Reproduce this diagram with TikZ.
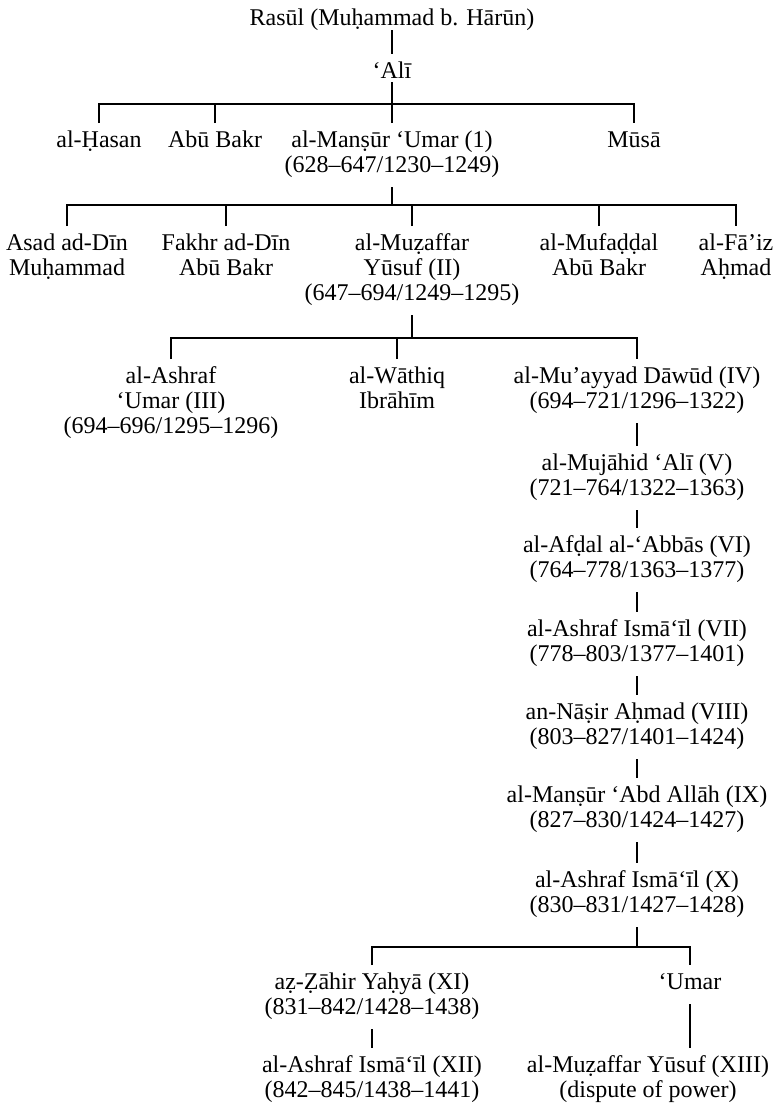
\documentclass[tikz,border=0pt]{standalone}
\usepackage{fontspec}
\setmainfont{Liberation Serif}
\newcommand{\tstr}{\rule{0pt}{24pt}}
\newcommand{\bstr}{\rule[-15pt]{0pt}{15pt}}
\newcommand{\sstr}{\rule[-4pt]{0pt}{4pt}}
\begin{document}
\begin{tikzpicture}[x=1pt,y=-1pt]
\tikzset{
  nm/.style={inner sep=0pt, outer sep=0pt, anchor=north, align=center,
    font=\fontsize{24}{25}\selectfont},
  ln/.style={line width=1.1pt, draw=black}
}
\useasboundingbox (0,0) rectangle (773,1104);
% generation 0/1
\node[nm] (rasul) at (392,1) {\tstr Rasūl (Muḥammad b. Hārūn)\sstr};
\node[nm] (ali) at (392,54) {\tstr ‘Alī\sstr};
% row 1
\node[nm] (hasan) at (99,123) {\tstr al-Ḥasan\bstr};
\node[nm] (abubakr) at (215,123) {\tstr Abū Bakr\bstr};
\node[nm] (mansur) at (392,123) {\tstr al-Manṣūr ‘Umar (1)\\(628–647/1230–1249)\bstr};
\node[nm] (musa) at (634,123) {\tstr Mūsā\bstr};
% row 2
\node[nm] (asad) at (67,226) {\tstr Asad ad-Dīn\\Muḥammad\bstr};
\node[nm] (fakhr) at (226,226) {\tstr Fakhr ad-Dīn\\Abū Bakr\bstr};
\node[nm] (muzaffar) at (412,226) {\tstr al-Muẓaffar\\Yūsuf (II)\\(647–694/1249–1295)\bstr};
\node[nm] (mufaddal) at (599,226) {\tstr al-Mufaḍḍal\\Abū Bakr\bstr};
\node[nm] (faiz) at (736,226) {\tstr al-Fā’iz\\Aḥmad\bstr};
% row 3
\node[nm] (ashraf) at (171,359) {\tstr al-Ashraf\\‘Umar (III)\\(694–696/1295–1296)\bstr};
\node[nm] (wathiq) at (397,359) {\tstr al-Wāthiq\\Ibrāhīm\bstr};
\node[nm] (muayyad) at (637,359) {\tstr al-Mu’ayyad Dāwūd (IV)\\(694–721/1296–1322)\bstr};
% chain
\node[nm] (v) at (637,446) {\tstr al-Mujāhid ‘Alī (V)\\(721–764/1322–1363)\bstr};
\node[nm] (vi) at (637,528) {\tstr al-Afḍal al-‘Abbās (VI)\\(764–778/1363–1377)\bstr};
\node[nm] (vii) at (637,612) {\tstr al-Ashraf Ismā‘īl (VII)\\(778–803/1377–1401)\bstr};
\node[nm] (viii) at (637,695) {\tstr an-Nāṣir Aḥmad (VIII)\\(803–827/1401–1424)\bstr};
\node[nm] (ix) at (637,778) {\tstr al-Manṣūr ‘Abd Allāh (IX)\\(827–830/1424–1427)\bstr};
\node[nm] (x) at (637,863) {\tstr al-Ashraf Ismā‘īl (X)\\(830–831/1427–1428)\bstr};
% last rows
\node[nm] (xi) at (372,965) {\tstr aẓ-Ẓāhir Yaḥyā (XI)\\(831–842/1428–1438)\bstr};
\node[nm] (umar) at (690,965) {\tstr ‘Umar\bstr};
\node[nm] (xii) at (372,1048) {\tstr al-Ashraf Ismā‘īl (XII)\\(842–845/1438–1441)\bstr};
\node[nm] (xiii) at (648,1048) {\tstr al-Muẓaffar Yūsuf (XIII)\\(dispute of power)\bstr};
% junctions
\coordinate (j1) at (392,104);
\coordinate (j2) at (392,205);
\coordinate (j3) at (412,338);
\coordinate (j4) at (637,947);
% connectors
\draw[ln] (rasul.south) -- (ali.north);
\draw[ln] (ali.south) -- (j1);
\draw[ln] (hasan.north) -- (hasan.north |- j1) -- (musa.north |- j1) -- (musa.north);
\draw[ln] (abubakr.north) -- (abubakr.north |- j1);
\draw[ln] (mansur.north) -- (mansur.north |- j1);
\draw[ln] (mansur.south) -- (j2);
\draw[ln] (asad.north) -- (asad.north |- j2) -- (faiz.north |- j2) -- (faiz.north);
\draw[ln] (fakhr.north) -- (fakhr.north |- j2);
\draw[ln] (muzaffar.north) -- (muzaffar.north |- j2);
\draw[ln] (mufaddal.north) -- (mufaddal.north |- j2);
\draw[ln] (muzaffar.south) -- (j3);
\draw[ln] (ashraf.north) -- (ashraf.north |- j3) -- (muayyad.north |- j3) -- (muayyad.north);
\draw[ln] (wathiq.north) -- (wathiq.north |- j3);
\draw[ln] (muayyad.south) -- (v.north);
\draw[ln] (v.south) -- (vi.north);
\draw[ln] (vi.south) -- (vii.north);
\draw[ln] (vii.south) -- (viii.north);
\draw[ln] (viii.south) -- (ix.north);
\draw[ln] (ix.south) -- (x.north);
\draw[ln] (x.south) -- (j4);
\draw[ln] (xi.north) -- (xi.north |- j4) -- (umar.north |- j4) -- (umar.north);
\draw[ln] (xi.south) -- (xii.north);
\draw[ln] (umar.south) -- (umar.south |- xiii.north);
\end{tikzpicture}
\end{document}
